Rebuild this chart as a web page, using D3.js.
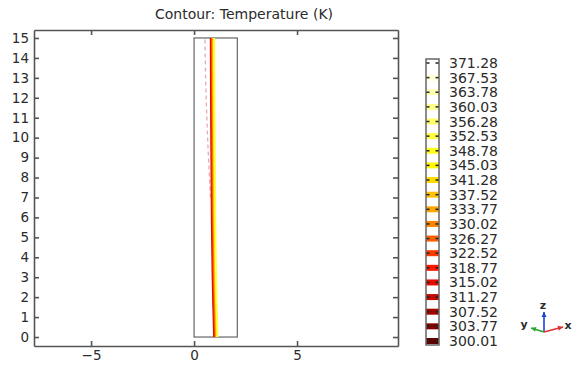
<!DOCTYPE html>
<html>
<head>
<meta charset="utf-8">
<script src="https://cdn.jsdelivr.net/npm/d3@7"></script>
<style>
  body { margin: 0; background: #fff; }
  svg { display: block; }
  text { font-family: "DejaVu Sans", sans-serif; fill: #2b2b2b; }
</style>
</head>
<body>
<svg id="chart" width="573" height="369"></svg>
<script>
// contour levels shown in the colour legend (K)
const levels = [300.01, 303.77, 307.52, 311.27, 315.02, 318.77, 322.52, 326.27, 330.02,
  333.77, 337.52, 341.28, 345.03, 348.78, 352.53, 356.28, 360.03, 363.78, 367.53, 371.28];

const xTicks = [-5, 0, 5];
const yTicks = d3.range(0, 16);

// geometry outline (domain rectangle)
const domainX = [0, 2.1];
const domainY = [0, 15];

// heights where the contour lines are sampled
const lineY = [0, 3, 6, 9, 12, 15];
// each contour: its level and x position at each height in lineY
const contourLevels = [311.27, 318.77, 322.52, 330.02, 341.28, 352.53];
const contourX = [
  [0.97, 0.90, 0.86, 0.84, 0.82, 0.81],
  [1.00, 0.93, 0.89, 0.87, 0.85, 0.84],
  [1.03, 0.96, 0.92, 0.90, 0.88, 0.87],
  [1.06, 0.99, 0.95, 0.93, 0.91, 0.90],
  [1.10, 1.03, 0.99, 0.97, 0.95, 0.94],
  [1.14, 1.07, 1.03, 1.01, 0.99, 0.98]
];
// faint broken contour on the left of the main band
const faintY = [7, 9, 11, 13, 15];
const faintX = [0.80, 0.70, 0.62, 0.56, 0.53];

const svg = d3.select("#chart");

const x = d3.scaleLinear().domain([-7.77, 9.9]).range([34, 398]);
const y = d3.scaleLinear().domain([-0.45, 15.4]).range([346, 30]);

const heat = d3.scaleLinear()
  .domain([300.01, 318, 333, 346, 371.28])
  .range(["#5c0000", "#ff1000", "#ffa000", "#ffff00", "#ffffff"])
  .clamp(true);

// title
svg.append("text")
  .attr("x", 244).attr("y", 19)
  .attr("text-anchor", "middle")
  .style("font-size", "14px")
  .text("Contour: Temperature (K)");

// domain rectangle
svg.append("rect")
  .attr("x", x(domainX[0])).attr("y", y(domainY[1]))
  .attr("width", x(domainX[1]) - x(domainX[0]))
  .attr("height", y(domainY[0]) - y(domainY[1]))
  .attr("fill", "none").attr("stroke", "#666").attr("stroke-width", 1.2);

// contour lines
const line = d3.line().x(d => x(d[0])).y(d => y(d[1])).curve(d3.curveCatmullRom);

svg.append("path")
  .datum(faintX.map((v, i) => [v, faintY[i]]))
  .attr("d", line)
  .attr("fill", "none")
  .attr("stroke", "#c0303a").attr("stroke-opacity", 0.4)
  .attr("stroke-width", 1.3).attr("stroke-dasharray", "4,3");

contourLevels.forEach((lv, k) => {
  svg.append("path")
    .datum(contourX[k].map((v, i) => [v, lineY[i]]))
    .attr("d", line)
    .attr("fill", "none")
    .attr("stroke", heat(lv))
    .attr("stroke-width", 1.9);
});

// axes: labelled left/bottom, tick-only top/right, ticks pointing inward
const axisStyle = g => {
  g.select(".domain").attr("stroke", "#555").attr("stroke-width", 1.6);
  g.selectAll(".tick line").attr("stroke", "#555").attr("stroke-width", 1.6);
  g.selectAll("text").style("font-size", "13.5px").attr("fill", "#2b2b2b");
};

svg.append("g").attr("transform", "translate(0,346)")
  .call(d3.axisBottom(x).tickValues(xTicks).tickSize(-5).tickPadding(4).tickSizeOuter(0))
  .call(axisStyle);
svg.append("g").attr("transform", "translate(0,30)")
  .call(d3.axisTop(x).tickValues(xTicks).tickSize(-5).tickFormat("").tickSizeOuter(0))
  .call(axisStyle);
svg.append("g").attr("transform", "translate(34,0)")
  .call(d3.axisLeft(y).tickValues(yTicks).tickSize(-5).tickPadding(5).tickSizeOuter(0))
  .call(axisStyle);
svg.append("g").attr("transform", "translate(398,0)")
  .call(d3.axisRight(y).tickValues(yTicks).tickSize(-5).tickFormat("").tickSizeOuter(0))
  .call(axisStyle);

// colour legend
const cbX = 426, cbW = 13;
const cy = d3.scaleLinear().domain([300.01, 371.28]).range([341, 63]);
const cb = svg.append("g");

cb.append("rect")
  .attr("x", cbX).attr("y", 59).attr("width", cbW).attr("height", 286)
  .attr("fill", "#fff");

cb.selectAll("rect.band").data(levels).enter().append("rect")
  .attr("class", "band")
  .attr("x", cbX).attr("y", d => cy(d) - 3)
  .attr("width", cbW).attr("height", 6)
  .attr("fill", d => heat(d));

cb.selectAll("line.dl").data(levels).enter().append("line")
  .attr("x1", cbX).attr("x2", cbX + 3.5)
  .attr("y1", d => cy(d)).attr("y2", d => cy(d))
  .attr("stroke", "#222").attr("stroke-width", 1.5);
cb.selectAll("line.dr").data(levels).enter().append("line")
  .attr("x1", cbX + cbW - 3.5).attr("x2", cbX + cbW)
  .attr("y1", d => cy(d)).attr("y2", d => cy(d))
  .attr("stroke", "#222").attr("stroke-width", 1.5);

cb.append("rect")
  .attr("x", cbX).attr("y", 59).attr("width", cbW).attr("height", 286)
  .attr("fill", "none").attr("stroke", "#666").attr("stroke-width", 1.5);

cb.selectAll("text").data(levels).enter().append("text")
  .attr("x", 449).attr("y", d => cy(d))
  .attr("dy", "0.36em")
  .style("font-size", "14px")
  .text(d => d.toFixed(2));

// coordinate triad
const tri = svg.append("g").attr("transform", "translate(544,332)");
const arrows = [
  { dx: 0, dy: -20, c: "#1f3fd8", t: "z", tx: -1, ty: -23 },
  { dx: -13, dy: -4, c: "#2aa832", t: "y", tx: -20, ty: -4 },
  { dx: 19, dy: -5, c: "#e03030", t: "x", tx: 24, ty: -3 }
];
arrows.forEach(a => {
  tri.append("line")
    .attr("x1", 0).attr("y1", 0).attr("x2", a.dx).attr("y2", a.dy)
    .attr("stroke", a.c).attr("stroke-width", 1.6);
  const ang = Math.atan2(a.dy, a.dx);
  const h = 5, w = 2.5;
  const bx = a.dx - h * Math.cos(ang), by = a.dy - h * Math.sin(ang);
  tri.append("polygon")
    .attr("points", [
      [a.dx, a.dy],
      [bx + w * Math.sin(ang), by - w * Math.cos(ang)],
      [bx - w * Math.sin(ang), by + w * Math.cos(ang)]
    ].map(p => p.join(",")).join(" "))
    .attr("fill", a.c);
  tri.append("text")
    .attr("x", a.tx).attr("y", a.ty)
    .attr("text-anchor", "middle")
    .style("font-size", "11px").style("font-weight", "bold")
    .attr("fill", "#222")
    .text(a.t);
});
</script>
</body>
</html>
